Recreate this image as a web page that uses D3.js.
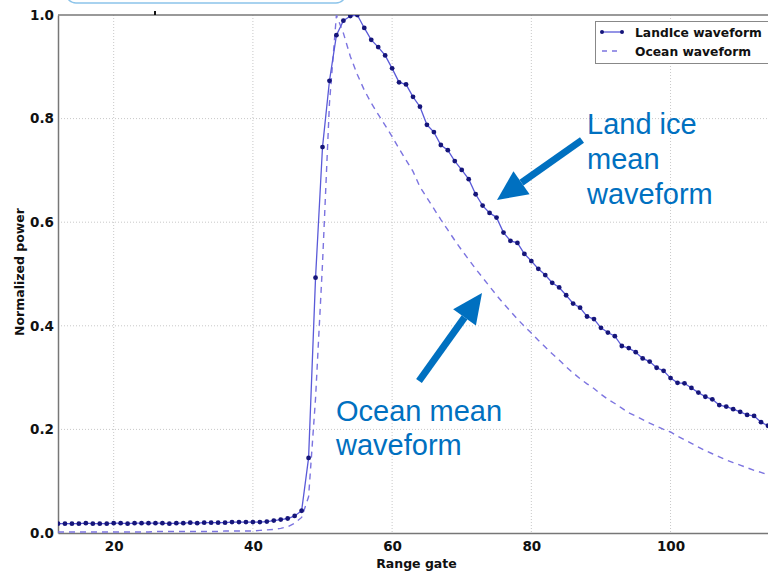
<!DOCTYPE html>
<html>
<head>
<meta charset="utf-8">
<script src="https://cdn.jsdelivr.net/npm/d3@7"></script>
<style>
    body { margin: 0; background: #fff; }
    svg { display: block; }
    .tick-label { font-family: "DejaVu Sans", sans-serif; font-weight: bold; font-size: 13.5px; fill: #111; }
    .axis-title { font-family: "DejaVu Sans", sans-serif; font-weight: bold; font-size: 12.5px; fill: #111; }
    .legend-text { font-family: "DejaVu Sans", sans-serif; font-weight: bold; font-size: 12.3px; fill: #111; }
    .note { font-family: "Liberation Sans", Arial, sans-serif; font-size: 29px; fill: #0070c0; }
</style>
</head>
<body>
<div id="chart"></div>
<script>
// range gates 12 .. 114
var gates = d3.range(12, 115);

var landIce = [
    0.018, 0.018, 0.018, 0.018, 0.019, 0.018, 0.018, 0.018, 0.019, 0.019,
    0.018, 0.019, 0.019, 0.019, 0.019, 0.019, 0.018, 0.019, 0.019, 0.020,
    0.019, 0.020, 0.020, 0.020, 0.020, 0.021, 0.021, 0.021, 0.021, 0.021,
    0.022, 0.024, 0.026, 0.028, 0.033, 0.043, 0.145, 0.493, 0.745, 0.873,
    0.961, 0.989, 0.998, 1.000, 0.975, 0.952, 0.938, 0.922, 0.897, 0.870,
    0.866, 0.842, 0.823, 0.788, 0.774, 0.749, 0.739, 0.718, 0.701, 0.683,
    0.654, 0.632, 0.618, 0.609, 0.580, 0.564, 0.560, 0.539, 0.525, 0.510,
    0.498, 0.483, 0.474, 0.459, 0.443, 0.435, 0.418, 0.413, 0.396, 0.387,
    0.380, 0.361, 0.357, 0.349, 0.337, 0.331, 0.319, 0.313, 0.299, 0.290,
    0.289, 0.280, 0.271, 0.263, 0.258, 0.247, 0.244, 0.239, 0.234, 0.228,
    0.226, 0.214, 0.207
];

var ocean = [
    0.002, 0.002, 0.002, 0.002, 0.002, 0.002, 0.002, 0.002, 0.002, 0.002,
    0.002, 0.002, 0.002, 0.002, 0.003, 0.003, 0.003, 0.003, 0.003, 0.003,
    0.003, 0.003, 0.003, 0.003, 0.004, 0.004, 0.004, 0.004, 0.004, 0.005,
    0.006, 0.007, 0.009, 0.012, 0.019, 0.030, 0.070, 0.260, 0.520, 0.830,
    1.000, 0.965, 0.920, 0.885, 0.855, 0.830, 0.808, 0.787, 0.765, 0.742,
    0.720, 0.698, 0.668, 0.647, 0.626, 0.605, 0.585, 0.565, 0.546, 0.528,
    0.510, 0.493, 0.476, 0.459, 0.443, 0.428, 0.413, 0.399, 0.386, 0.372,
    0.359, 0.346, 0.334, 0.321, 0.309, 0.298, 0.288, 0.279, 0.268, 0.258,
    0.250, 0.241, 0.232, 0.226, 0.219, 0.212, 0.206, 0.200, 0.195, 0.187,
    0.180, 0.173, 0.166, 0.159, 0.153, 0.147, 0.141, 0.136, 0.131, 0.126,
    0.121, 0.117, 0.112
];

var xTicks = [20, 40, 60, 80, 100];
var yTicks = [0.0, 0.2, 0.4, 0.6, 0.8, 1.0];
var seriesNames = ["LandIce waveform", "Ocean waveform"];

var width = 768,
    height = 574,
    plot = { left: 58, right: 768, top: 15, bottom: 533 };

var svg = d3.select("#chart").append("svg")
    .attr("width", width)
    .attr("height", height);

var x = d3.scaleLinear().domain([12, 114]).range([plot.left, plot.right]);
var y = d3.scaleLinear().domain([0, 1]).range([plot.bottom, plot.top]);

svg.append("clipPath").attr("id", "clip")
    .append("rect")
    .attr("x", plot.left).attr("y", plot.top)
    .attr("width", plot.right - plot.left).attr("height", plot.bottom - plot.top);

// dotted grid
svg.append("g")
    .selectAll("line")
    .data(xTicks)
    .enter().append("line")
    .attr("x1", function (d) { return x(d); })
    .attr("x2", function (d) { return x(d); })
    .attr("y1", plot.top).attr("y2", plot.bottom)
    .attr("stroke", "#c8c8c8").attr("stroke-dasharray", "1,2");
svg.append("g")
    .selectAll("line")
    .data(yTicks.slice(1, 5))
    .enter().append("line")
    .attr("y1", function (d) { return y(d); })
    .attr("y2", function (d) { return y(d); })
    .attr("x1", plot.left).attr("x2", plot.right)
    .attr("stroke", "#c8c8c8").attr("stroke-dasharray", "1,2");

// axes
var xAxis = svg.append("g")
    .attr("transform", "translate(0," + plot.bottom + ")")
    .call(d3.axisBottom(x).tickValues(xTicks).tickSize(0).tickPadding(8).tickFormat(d3.format("d")));
xAxis.select(".domain").attr("stroke", "#777").attr("stroke-width", 1.5);
xAxis.selectAll("text").attr("class", "tick-label");

var yAxis = svg.append("g")
    .attr("transform", "translate(" + plot.left + ",0)")
    .call(d3.axisLeft(y).tickValues(yTicks).tickSize(0).tickPadding(4).tickFormat(d3.format(".1f")));
yAxis.select(".domain").attr("stroke", "#777").attr("stroke-width", 1.5);
yAxis.selectAll("text").attr("class", "tick-label");

// top frame line
svg.append("line")
    .attr("x1", plot.left).attr("x2", plot.right)
    .attr("y1", plot.top).attr("y2", plot.top)
    .attr("stroke", "#777").attr("stroke-width", 1.5);

svg.append("text").attr("class", "axis-title")
    .attr("x", x(63.5)).attr("y", 568)
    .attr("text-anchor", "middle")
    .text("Range gate");

svg.append("text").attr("class", "axis-title")
    .attr("transform", "translate(24," + (y(0.5) - 2) + ")rotate(-90)")
    .attr("text-anchor", "middle")
    .text("Normalized power");

// series
var lineGen = d3.line()
    .x(function (d, i) { return x(gates[i]); })
    .y(function (d) { return y(d); });

var plotG = svg.append("g").attr("clip-path", "url(#clip)");

plotG.append("path")
    .datum(ocean)
    .attr("d", lineGen)
    .attr("fill", "none")
    .attr("stroke", "#7c74e0")
    .attr("stroke-width", 1.4)
    .attr("stroke-dasharray", "6,5");

plotG.append("path")
    .datum(landIce)
    .attr("d", lineGen)
    .attr("fill", "none")
    .attr("stroke", "#5a5ad8")
    .attr("stroke-width", 1.3);

plotG.selectAll("circle")
    .data(landIce)
    .enter().append("circle")
    .attr("cx", function (d, i) { return x(gates[i]); })
    .attr("cy", function (d) { return y(d); })
    .attr("r", 2.4)
    .attr("fill", "#15157a");

// legend
var legend = svg.append("g");
legend.append("rect")
    .attr("x", 595.5).attr("y", 21.5)
    .attr("width", 200).attr("height", 42)
    .attr("fill", "#fff").attr("stroke", "#888").attr("stroke-width", 1);
legend.append("line")
    .attr("x1", 602).attr("x2", 622).attr("y1", 32).attr("y2", 32)
    .attr("stroke", "#5a5ad8").attr("stroke-width", 1.3);
legend.selectAll(".lm")
    .data([602, 622])
    .enter().append("circle")
    .attr("cx", function (d) { return d; }).attr("cy", 32).attr("r", 2)
    .attr("fill", "#15157a");
legend.append("line")
    .attr("x1", 602).attr("x2", 622).attr("y1", 51).attr("y2", 51)
    .attr("stroke", "#7c74e0").attr("stroke-width", 1.4).attr("stroke-dasharray", "5,5");
legend.selectAll(".lt")
    .data(seriesNames)
    .enter().append("text")
    .attr("class", "legend-text")
    .attr("x", 635)
    .attr("y", function (d, i) { return 36.5 + i * 19; })
    .text(function (d) { return d; });

// clipped callout box at the top
svg.append("rect")
    .attr("x", 66).attr("y", -30).attr("width", 280).attr("height", 33).attr("rx", 10)
    .attr("fill", "none").attr("stroke", "#8cc4ea").attr("stroke-width", 1.5);
svg.append("rect")
    .attr("x", 154).attr("y", 11).attr("width", 2).attr("height", 4)
    .attr("fill", "#111");

// annotations
function arrow(x1, y1, x2, y2) {
    var ang = Math.atan2(y2 - y1, x2 - x1),
        headLen = 30, headW = 14;
    var bx = x2 - headLen * Math.cos(ang), by = y2 - headLen * Math.sin(ang);
    svg.append("line")
        .attr("x1", x1).attr("y1", y1).attr("x2", bx).attr("y2", by)
        .attr("stroke", "#0070c0").attr("stroke-width", 7);
    var px = -Math.sin(ang) * headW, py = Math.cos(ang) * headW;
    svg.append("path")
        .attr("d", "M" + x2 + "," + y2 + "L" + (bx + px) + "," + (by + py) + "L" + (bx - px) + "," + (by - py) + "Z")
        .attr("fill", "#0070c0");
}
arrow(582, 140, 497, 200);
arrow(419, 381, 482, 293);

var landNote = ["Land ice", "mean", "waveform"];
svg.selectAll(".ln")
    .data(landNote)
    .enter().append("text")
    .attr("class", "note")
    .attr("x", 587)
    .attr("y", function (d, i) { return 134 + i * 35; })
    .text(function (d) { return d; });

var oceanNote = ["Ocean mean", "waveform"];
svg.selectAll(".on")
    .data(oceanNote)
    .enter().append("text")
    .attr("class", "note")
    .attr("x", 336)
    .attr("y", function (d, i) { return 421 + i * 34; })
    .text(function (d) { return d; });
</script>
</body>
</html>
